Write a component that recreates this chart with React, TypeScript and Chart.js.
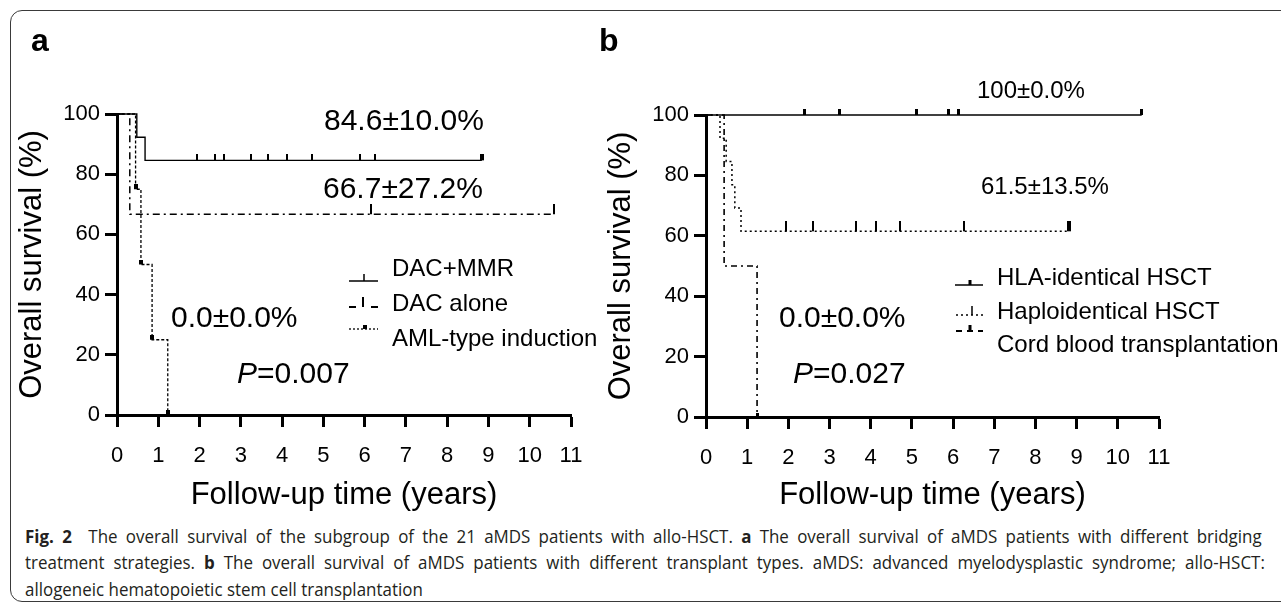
import React, { useEffect, useLayoutEffect, useRef } from 'react';
import { Chart, registerables } from 'chart.js';

Chart.register(...registerables);

const FONT = '"Liberation Sans", Arial, Helvetica, sans-serif';
const CAPTION_FONT = '"Open Sans", "Noto Sans", sans-serif';

// ---------- axes ----------
const xTickValues = [0, 1, 2, 3, 4, 5, 6, 7, 8, 9, 10, 11];
const yTickValues = [0, 20, 40, 60, 80, 100];
const xAxisTitle = 'Follow-up time (years)';
const yAxisTitle = 'Overall survival (%)';

// ---------- panel a : bridging treatment ----------
const dacMmrTimes = [0, 0.48, 0.68, 8.84];
const dacMmrSurvival = [100, 92.3, 84.6, 84.6];
const dacMmrCensored = [1.94, 2.37, 2.59, 3.24, 3.66, 4.12, 4.72, 5.88, 6.25];
const dacMmrLastCensor = [8.84];

const dacAloneTimes = [0, 0.31, 10.58];
const dacAloneSurvival = [100, 66.7, 66.7];
const dacAloneCensored = [6.15, 10.58];

const amlTimes = [0, 0.45, 0.58, 0.85, 1.23];
const amlSurvival = [100, 75, 50, 25, 0];

const legendLabelsA = ['DAC+MMR', 'DAC alone', 'AML-type induction'];
const survivalTextA = ['84.6±10.0%', '66.7±27.2%', '0.0±0.0%'];
const pValueA = '0.007';

// ---------- panel b : transplant type ----------
const hlaTimes = [0, 10.58];
const hlaSurvival = [100, 100];
const hlaCensored = [2.38, 3.25, 5.12, 5.9, 6.12, 10.58];

const haploTimes = [0, 0.34, 0.49, 0.63, 0.7, 0.85, 8.81];
const haploSurvival = [100, 92.3, 84.6, 76.9, 69.2, 61.5, 61.5];
const haploCensored = [1.94, 2.6, 3.64, 4.13, 4.71, 6.26];
const haploLastCensor = [8.81];

const cordTimes = [0, 0.44, 1.24];
const cordSurvival = [100, 50, 0];

const legendLabelsB = ['HLA-identical HSCT', 'Haploidentical HSCT', 'Cord blood transplantation'];
const survivalTextB = ['100±0.0%', '61.5±13.5%', '0.0±0.0%'];
const pValueB = '0.027';

const captionLines = [
  [
    { b: true, t: 'Fig. 2' },
    { t: '  The overall survival of the subgroup of the 21 aMDS patients with allo-HSCT. ' },
    { b: true, t: 'a' },
    { t: ' The overall survival of aMDS patients with different bridging' },
  ],
  [
    { t: 'treatment strategies. ' },
    { b: true, t: 'b' },
    { t: ' The overall survival of aMDS patients with different transplant types. aMDS: advanced myelodysplastic syndrome; allo-HSCT:' },
  ],
  [{ t: 'allogeneic hematopoietic stem cell transplantation' }],
];

// ---------- helpers ----------
function tickImage(w: number, h: number) {
  const c = document.createElement('canvas');
  c.width = w;
  c.height = h * 2;
  const g = c.getContext('2d')!;
  g.fillStyle = '#000';
  g.fillRect(0, 0, w, h);
  return c;
}

const last = (a: number[]) => a[a.length - 1];

function stepLine(times: number[], surv: number[], dash: number[], width = 1.5) {
  return {
    data: times.map((t, i) => ({ x: t, y: surv[i] })),
    stepped: 'before',
    borderColor: '#000',
    borderWidth: width,
    borderDash: dash,
    borderCapStyle: 'butt',
    pointRadius: 0,
    fill: false,
    clip: false,
    order: 2,
  };
}

function marks(times: number[], levels: number[], img: HTMLCanvasElement) {
  return {
    data: times.map((t, i) => ({ x: t, y: levels[i] })),
    showLine: false,
    pointStyle: img,
    pointRadius: 5,
    borderWidth: 0,
    clip: false,
    order: 1,
  };
}

const kmLegendPlugin = {
  id: 'kmLegend',
  afterDatasetsDraw(chart: any, _args: any, opts: any) {
    const ctx = chart.ctx;
    (opts.items || []).forEach((it: any) => {
      ctx.save();
      ctx.strokeStyle = '#000';
      ctx.lineWidth = it.lw;
      ctx.setLineDash(it.dash);
      ctx.beginPath();
      ctx.moveTo(it.x1, it.y);
      ctx.lineTo(it.x2, it.y);
      ctx.stroke();
      ctx.setLineDash([]);
      ctx.fillStyle = '#000';
      ctx.fillRect(it.tx - it.tw / 2, it.y - it.th, it.tw, it.th);
      ctx.restore();
    });
  },
};

function makeOptions(p: {
  padTop: number;
  padRight: number;
  yWidth: number;
  xHeight: number;
  yTitlePad: number;
  legendItems: any[];
}) {
  const tickGrid = {
    display: true,
    drawOnChartArea: false,
    drawTicks: true,
    tickLength: 12,
    tickWidth: 3,
    tickColor: '#000',
  };
  return {
    responsive: false,
    animation: false,
    events: [],
    layout: { padding: { top: p.padTop, right: p.padRight, left: 0, bottom: 0 } },
    plugins: {
      legend: { display: false },
      tooltip: { enabled: false },
      kmLegend: { items: p.legendItems },
    },
    scales: {
      x: {
        type: 'linear',
        min: 0,
        max: 11,
        afterBuildTicks: (s: any) => {
          s.ticks = xTickValues.map((v) => ({ value: v }));
        },
        ticks: { color: '#000', font: { family: FONT, size: 22 }, padding: 16, maxRotation: 0, autoSkip: false },
        grid: tickGrid,
        border: { display: true, color: '#000', width: 3 },
        title: {
          display: true,
          text: xAxisTitle,
          color: '#000',
          font: { family: FONT, size: 31 },
          padding: { top: 0, bottom: 6 },
        },
        afterFit: (s: any) => {
          s.height = p.xHeight;
        },
      },
      y: {
        type: 'linear',
        min: 0,
        max: 100,
        afterBuildTicks: (s: any) => {
          s.ticks = yTickValues.map((v) => ({ value: v }));
        },
        ticks: { color: '#000', font: { family: FONT, size: 22 }, padding: 5 },
        grid: tickGrid,
        border: { display: true, color: '#000', width: 3 },
        title: {
          display: true,
          text: yAxisTitle,
          color: '#000',
          font: { family: FONT, size: 31 },
          padding: { top: p.yTitlePad, bottom: 0 },
        },
        afterFit: (s: any) => {
          s.width = p.yWidth;
        },
      },
    },
  };
}

// ---------- text helpers ----------
function T(props: { x: number; cy: number; size: number; children: any; bold?: boolean }) {
  const { x, cy, size, children, bold } = props;
  return (
    <div
      style={{
        position: 'absolute',
        left: x,
        top: cy - size * 0.4885,
        fontSize: size,
        lineHeight: `${size}px`,
        fontFamily: FONT,
        fontWeight: bold ? 'bold' : 'normal',
        whiteSpace: 'nowrap',
        color: '#000',
      }}
    >
      {children}
    </div>
  );
}

function Caption() {
  const r0 = useRef<HTMLDivElement>(null);
  const r1 = useRef<HTMLDivElement>(null);
  const r2 = useRef<HTMLDivElement>(null);
  const refs = [r0, r1, r2];
  const tops = [523, 549, 576];
  useLayoutEffect(() => {
    // last line sets the condensing; the first two lines are justified to full width
    const targets = [1237, 1240, 398];
    const els = refs.map((r) => r.current!);
    if (els.some((e) => !e)) return;
    els.forEach((e) => {
      e.style.transform = 'none';
      e.style.wordSpacing = '0px';
    });
    const s = targets[2] / els[2].offsetWidth;
    els.forEach((el, i) => {
      if (i < 2) {
        const w = el.offsetWidth;
        const spaces = (el.textContent || '').split(' ').length - 1;
        const extra = (targets[i] / s - w) / Math.max(1, spaces);
        el.style.wordSpacing = `${extra}px`;
      }
      el.style.transform = `scaleX(${s})`;
    });
  }, []);
  return (
    <>
      {captionLines.map((line, i) => (
        <div
          key={i}
          ref={refs[i]}
          style={{
            position: 'absolute',
            left: 25,
            top: tops[i],
            display: 'inline-block',
            whiteSpace: 'pre',
            fontFamily: CAPTION_FONT,
            fontSize: 18,
            lineHeight: '26px',
            color: '#231f20',
            transformOrigin: '0 0',
          }}
        >
          {line.map((seg: any, j: number) => (
            <span key={j} style={{ fontWeight: seg.b ? 'bold' : 'normal' }}>
              {seg.t}
            </span>
          ))}
        </div>
      ))}
    </>
  );
}

export default function App() {
  const refA = useRef<HTMLCanvasElement>(null);
  const refB = useRef<HTMLCanvasElement>(null);

  useEffect(() => {
    // panel a
    const thinTick = tickImage(2, 6);
    const endSquare = tickImage(4, 6);
    const dacTick = tickImage(2, 10);
    const amlSquare = tickImage(4, 5);
    const chartA = new Chart(refA.current!, {
      type: 'line',
      data: {
        datasets: [
          stepLine(dacMmrTimes, dacMmrSurvival, [], 1.4),
          stepLine(dacAloneTimes, dacAloneSurvival, [7, 4, 2, 4], 1.5),
          stepLine(amlTimes, amlSurvival, [3, 2], 1.3),
          marks(dacMmrCensored, dacMmrCensored.map(() => last(dacMmrSurvival)), thinTick),
          marks(dacMmrLastCensor, dacMmrLastCensor.map(() => last(dacMmrSurvival)), endSquare),
          marks(dacAloneCensored, dacAloneCensored.map(() => last(dacAloneSurvival)), dacTick),
          marks(amlTimes.slice(1), amlSurvival.slice(1), amlSquare),
        ] as any,
      },
      options: makeOptions({
        padTop: 114,
        padRight: 69,
        yWidth: 117,
        xHeight: 105,
        yTitlePad: 14,
        legendItems: [
          { x1: 349, x2: 378, y: 281, lw: 1.5, dash: [], tx: 364, tw: 1.5, th: 7 },
          { x1: 349, x2: 378, y: 307, lw: 1.8, dash: [7, 15], tx: 363, tw: 2, th: 10 },
          { x1: 349, x2: 378, y: 329, lw: 1.3, dash: [2, 2], tx: 365, tw: 4, th: 4 },
        ],
      }) as any,
      plugins: [kmLegendPlugin],
    });

    // panel b (canvas starts at page x = 590)
    const hlaTick = tickImage(3, 6);
    const haploTick = tickImage(2, 10);
    const haploEnd = tickImage(4, 10);
    const cordEnd = tickImage(3, 4);
    const chartB = new Chart(refB.current!, {
      type: 'line',
      data: {
        datasets: [
          stepLine(hlaTimes, hlaSurvival, [], 1.5),
          stepLine(haploTimes, haploSurvival, [2, 3], 1.5),
          stepLine(cordTimes, cordSurvival, [6, 4, 2, 4], 1.6),
          marks(hlaCensored, hlaCensored.map(() => last(hlaSurvival)), hlaTick),
          marks(haploCensored, haploCensored.map(() => last(haploSurvival)), haploTick),
          marks(haploLastCensor, haploLastCensor.map(() => last(haploSurvival)), haploEnd),
          marks([last(cordTimes)], [last(cordSurvival)], cordEnd),
        ] as any,
      },
      options: makeOptions({
        padTop: 115,
        padRight: 122,
        yWidth: 116,
        xHeight: 103,
        yTitlePad: 13,
        legendItems: [
          { x1: 365, x2: 393, y: 285, lw: 1.5, dash: [], tx: 380, tw: 3, th: 5 },
          { x1: 366, x2: 396, y: 315, lw: 1.5, dash: [2, 3], tx: 382, tw: 1.5, th: 9 },
          { x1: 366, x2: 393, y: 331, lw: 1.8, dash: [6, 5], tx: 380, tw: 3, th: 6 },
        ],
      }) as any,
      plugins: [kmLegendPlugin],
    });

    return () => {
      chartA.destroy();
      chartB.destroy();
    };
  }, []);

  return (
    <div
      style={{
        position: 'absolute',
        left: 0,
        top: 0,
        width: 1281,
        height: 605,
        background: '#fff',
        overflow: 'hidden',
        fontFamily: FONT,
      }}
    >
      <div
        style={{
          position: 'absolute',
          left: 10,
          top: 10,
          width: 1300,
          height: 592,
          border: '1px solid #3a3a3a',
          borderRadius: 12,
          boxSizing: 'border-box',
        }}
      />
      <canvas
        ref={refA}
        width={640}
        height={520}
        style={{ position: 'absolute', left: 0, top: 0, width: 640, height: 520 }}
      />
      <canvas
        ref={refB}
        width={691}
        height={520}
        style={{ position: 'absolute', left: 590, top: 0, width: 691, height: 520 }}
      />

      {/* panel letters */}
      <T x={31} cy={40} size={32} bold>
        a
      </T>
      <T x={599} cy={40} size={32} bold>
        b
      </T>

      {/* panel a annotations */}
      <T x={324} cy={120} size={30}>{survivalTextA[0]}</T>
      <T x={323} cy={188} size={30}>{survivalTextA[1]}</T>
      <T x={171} cy={317} size={30}>{survivalTextA[2]}</T>
      <T x={237} cy={373} size={30}>
        <i>P</i>={pValueA}
      </T>
      <T x={392} cy={268} size={24}>{legendLabelsA[0]}</T>
      <T x={392} cy={303} size={24}>{legendLabelsA[1]}</T>
      <T x={392} cy={338} size={24}>{legendLabelsA[2]}</T>

      {/* panel b annotations */}
      <T x={977} cy={90} size={24}>{survivalTextB[0]}</T>
      <T x={981} cy={186} size={24}>{survivalTextB[1]}</T>
      <T x={779} cy={317} size={30}>{survivalTextB[2]}</T>
      <T x={793} cy={373} size={30}>
        <i>P</i>={pValueB}
      </T>
      <T x={997} cy={277} size={24}>{legendLabelsB[0]}</T>
      <T x={997} cy={311} size={24}>{legendLabelsB[1]}</T>
      <T x={997} cy={344} size={24}>{legendLabelsB[2]}</T>

      <Caption />
    </div>
  );
}
